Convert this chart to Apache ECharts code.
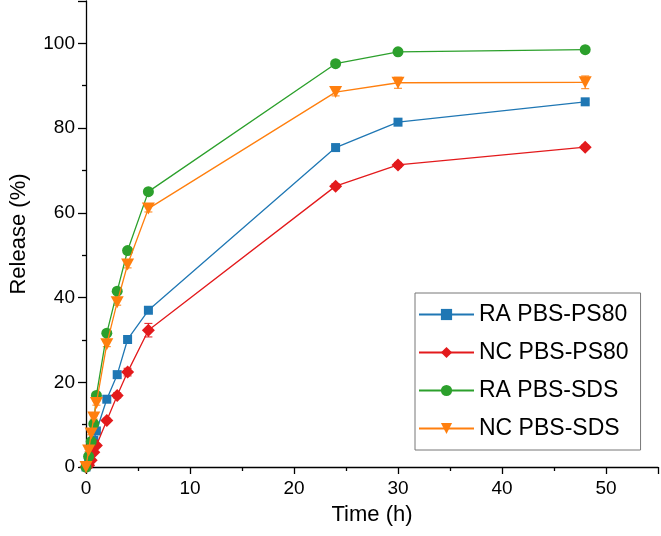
<!DOCTYPE html>
<html>
<head>
<meta charset="utf-8">
<script src="https://cdn.jsdelivr.net/npm/echarts@6/dist/echarts.min.js"></script>
<style>html,body{margin:0;padding:0;background:#fff;}#chart{width:661px;height:536px;}</style>
</head>
<body>
<div id="chart"></div>
<script>
const times = [0, 0.25, 0.5, 0.75, 1, 2, 3, 4, 6, 24, 30, 48];
const raPS80 = [0, 1.5, 4.0, 6.3, 8.5, 16.0, 21.8, 30.1, 37.0, 75.4, 81.4, 86.2];
const ncPS80 = [0, 0.4, 1.6, 3.5, 5.1, 11.0, 16.9, 22.4, 32.3, 66.3, 71.3, 75.5];
const raSDS = [0, 2.5, 6.0, 10.2, 16.9, 31.6, 41.5, 51.1, 65.0, 95.2, 98.0, 98.5];
const ncSDS = [0, 3.9, 7.9, 11.7, 15.1, 29.0, 38.9, 47.8, 61.0, 88.5, 90.7, 90.8];
const raPS80Err = [0, 0.2, 0.3, 0.3, 0.3, 0.4, 0.5, 0.5, 0.6, 0.5, 0.5, 0.5];
const ncPS80Err = [0, 0.2, 0.2, 0.3, 0.4, 0.5, 0.6, 0.9, 1.6, 0.6, 0.6, 0.5];
const raSDSErr = [0, 0.3, 0.3, 0.3, 0.5, 0.5, 0.6, 0.6, 0.6, 0.5, 0.5, 0.5];
const ncSDSErr = [0, 0.3, 0.3, 0.4, 0.5, 0.6, 0.7, 0.8, 0.8, 0.9, 1.3, 1.5];
const seriesNames = ['RA PBS-PS80', 'NC PBS-PS80', 'RA PBS-SDS', 'NC PBS-SDS'];
const xTicks = [0, 10, 20, 30, 40, 50];
const yTicks = [0, 20, 40, 60, 80, 100];

const FONT = '"Liberation Sans", Arial, sans-serif';
const colors = ['#1f77b4', '#e31a1c', '#2ca02c', '#ff7f0e'];
const symbols = ['rect', 'diamond', 'circle', 'triangle'];
const symSizes = [9, 13, 11, 12];
const vals = [raPS80, ncPS80, raSDS, ncSDS];
const errs = [raPS80Err, ncPS80Err, raSDSErr, ncSDSErr];

const series = [];
vals.forEach((v, i) => {
  series.push({
    type: 'custom',
    name: seriesNames[i] + ' err',
    z: 1,
    silent: true,
    data: times.map((t, k) => [t, v[k], errs[i][k]]),
    renderItem: function (params, api) {
      const x = api.value(0), y = api.value(1), e = api.value(2);
      const top = api.coord([x, y + e]);
      const bot = api.coord([x, y - e]);
      const w = 4;
      const st = { stroke: colors[i], lineWidth: 1 };
      return {
        type: 'group',
        children: [
          { type: 'line', shape: { x1: top[0], y1: top[1], x2: bot[0], y2: bot[1] }, style: st },
          { type: 'line', shape: { x1: top[0] - w, y1: top[1], x2: top[0] + w, y2: top[1] }, style: st },
          { type: 'line', shape: { x1: bot[0] - w, y1: bot[1], x2: bot[0] + w, y2: bot[1] }, style: st }
        ]
      };
    }
  });
  series.push({
    type: 'line',
    name: seriesNames[i],
    z: 2 + i,
    data: times.map((t, k) => [t, v[k]]),
    symbol: symbols[i],
    symbolSize: symbols[i] === 'triangle' ? [13, 12] : symSizes[i],
    symbolRotate: symbols[i] === 'triangle' ? 180 : 0,
    showAllSymbol: true,
    lineStyle: { color: colors[i], width: 1.3 },
    itemStyle: { color: colors[i] },
    emphasis: { disabled: true },
    animation: false
  });
});

const chart = echarts.init(document.getElementById('chart'));
chart.setOption({
  animation: false,
  backgroundColor: '#fff',
  grid: { left: 77, right: 1, top: 1, bottom: 69, containLabel: false },
  legend: {
    data: seriesNames,
    orient: 'vertical',
    left: 415,
    top: 293,
    itemWidth: 55,
    itemHeight: 14,
    itemGap: 15,
    padding: [10, 12, 10, 3],
    borderColor: '#777',
    borderWidth: 1,
    textStyle: { fontSize: 23, color: '#000', fontFamily: FONT }
  },
  xAxis: {
    type: 'value',
    min: 0, max: 55, interval: 10,
    name: 'Time (h)',
    nameLocation: 'middle',
    nameGap: 37,
    nameTextStyle: { fontSize: 22, color: '#000', fontFamily: FONT },
    axisLine: { show: true, lineStyle: { color: '#000', width: 1.3 } },
    axisTick: { show: true, inside: false, length: 7, lineStyle: { color: '#000', width: 1.3 } },
    minorTick: { show: true, splitNumber: 2, length: 4, lineStyle: { color: '#000', width: 1.3 } },
    axisLabel: { fontSize: 19, color: '#000', fontFamily: FONT, margin: 12,
      formatter: v => xTicks.includes(v) ? String(v) : '' },
    splitLine: { show: false }
  },
  yAxis: {
    type: 'value',
    min: 0, max: 110, interval: 20,
    name: 'Release (%)',
    nameLocation: 'middle',
    nameGap: 56,
    nameRotate: 90,
    nameTextStyle: { fontSize: 22, color: '#000', fontFamily: FONT },
    axisLine: { show: true, lineStyle: { color: '#000', width: 1.3 } },
    axisTick: { show: true, inside: false, length: 8, lineStyle: { color: '#000', width: 1.3 } },
    minorTick: { show: true, splitNumber: 2, length: 4, lineStyle: { color: '#000', width: 1.3 } },
    axisLabel: { fontSize: 19, color: '#000', fontFamily: FONT, margin: 11,
      formatter: v => yTicks.includes(v) ? String(v) : '' },
    splitLine: { show: false }
  },
  series: series
});
</script>
</body>
</html>
